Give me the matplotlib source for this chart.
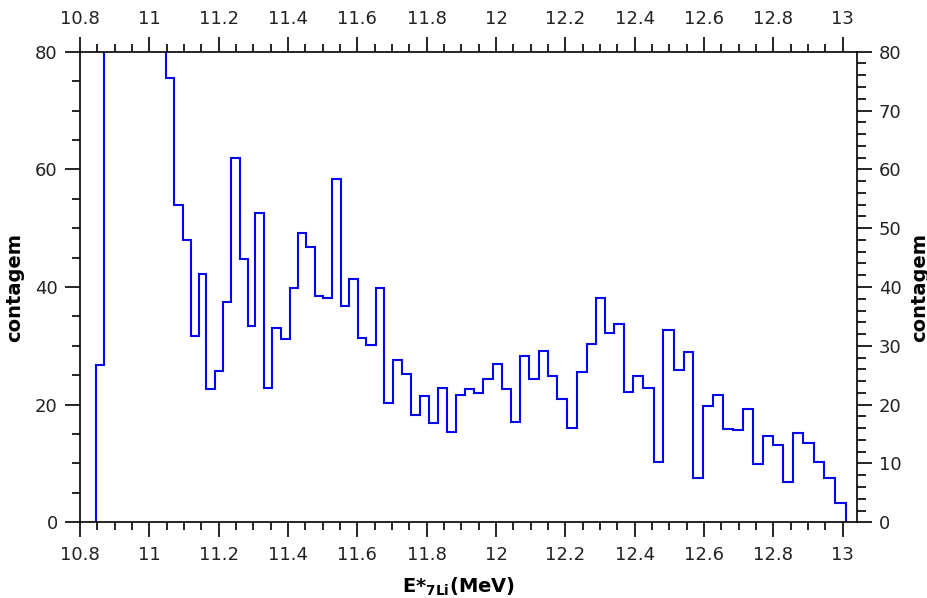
import matplotlib
matplotlib.use("Agg")
import matplotlib.pyplot as plt
from matplotlib.ticker import MultipleLocator
import numpy as np

# Bin edges of the excitation-energy histogram (MeV); bins widen slowly with energy
edges = [
    10.846, 10.868, 10.891, 10.913, 10.936, 10.958, 10.981, 11.003, 11.026, 11.048,
    11.072, 11.096, 11.119, 11.142, 11.164, 11.188, 11.212, 11.236, 11.260, 11.284,
    11.306, 11.330, 11.355, 11.379, 11.405, 11.429, 11.453, 11.477, 11.501, 11.527,
    11.552, 11.576, 11.602, 11.626, 11.653, 11.677, 11.703, 11.729, 11.754, 11.780,
    11.806, 11.833, 11.859, 11.884, 11.910, 11.936, 11.963, 11.990, 12.016, 12.042,
    12.069, 12.096, 12.124, 12.151, 12.177, 12.204, 12.233, 12.262, 12.288, 12.314,
    12.341, 12.369, 12.396, 12.425, 12.454, 12.481, 12.512, 12.541, 12.568, 12.597,
    12.626, 12.653, 12.683, 12.712, 12.741, 12.770, 12.799, 12.828, 12.857, 12.886,
    12.916, 12.947, 12.976, 13.009,
]

# Counts per bin (the peak near 10.9-11.0 MeV goes above the plotted range)
counts = [
    26.7,
    95.0, 140.0, 180.0, 200.0, 170.0, 130.0, 105.0, 88.0,
    75.6, 54.0, 48.0, 31.7, 42.2, 22.7, 25.7, 37.4, 61.9, 44.8,
    33.4, 52.6, 22.8, 33.0, 31.2, 39.8, 49.2, 46.8, 38.5, 38.2,
    58.3, 36.8, 41.3, 31.3, 30.1, 39.8, 20.3, 27.6, 25.2, 18.2,
    21.4, 16.9, 22.9, 15.3, 21.6, 22.6, 22.0, 24.4, 26.9, 22.7,
    17.1, 28.3, 24.4, 29.2, 24.9, 20.9, 16.1, 25.6, 30.3, 38.2,
    32.2, 33.7, 22.1, 24.8, 22.9, 10.3, 32.7, 25.9, 29.0, 7.6,
    19.8, 21.6, 15.8, 15.7, 19.3, 9.9, 14.7, 13.1, 6.9, 15.1,
    13.5, 10.2, 7.6, 3.2,
]

x_ticks = [10.8, 11.0, 11.2, 11.4, 11.6, 11.8, 12.0, 12.2, 12.4, 12.6, 12.8, 13.0]
x_tick_labels = ["10.8", "11", "11.2", "11.4", "11.6", "11.8", "12", "12.2", "12.4",
                 "12.6", "12.8", "13"]
left_ticks = [0, 20, 40, 60, 80]
right_ticks = [0, 10, 20, 30, 40, 50, 60, 70, 80]

plt.rcParams["font.family"] = ["DejaVu Sans"]

W, H = 928, 598
fig = plt.figure(figsize=(W / 100, H / 100), dpi=100)
fig.patch.set_facecolor("white")

left, right, top, bottom = 80, 856.7, 51.7, 522.3
ax = fig.add_axes([left / W, 1 - bottom / H, (right - left) / W, (bottom - top) / H])

ax.stairs(counts, edges, baseline=0, color="#0505f0", linewidth=1.5)

ax.set_xlim(10.8, 13.04)
ax.set_ylim(0, 80)

spine_lw = 1.2
tick_col = "#222222"
for s in ax.spines.values():
    s.set_linewidth(spine_lw)
    s.set_color("black")

ax.set_xticks(x_ticks)
ax.set_xticklabels(x_tick_labels)
ax.xaxis.set_minor_locator(MultipleLocator(0.05))
ax.set_yticks(left_ticks)
ax.yaxis.set_minor_locator(MultipleLocator(5))

ax.tick_params(axis="x", which="both", direction="out", top=True, bottom=True,
               labeltop=True, labelbottom=True, width=spine_lw, color="black",
               labelsize=13, labelcolor=tick_col)
ax.tick_params(axis="x", which="major", length=11, pad=6)
ax.tick_params(axis="x", which="minor", length=6)
ax.tick_params(axis="y", which="both", direction="out", left=True, right=False,
               width=spine_lw, color="black", labelsize=13, labelcolor=tick_col)
ax.tick_params(axis="y", which="major", length=11, pad=5)
ax.tick_params(axis="y", which="minor", length=6)

ax2 = ax.twinx()
ax2.set_ylim(0, 80)
ax2.set_yticks(right_ticks)
ax2.yaxis.set_minor_locator(MultipleLocator(2))
ax2.tick_params(axis="y", which="both", direction="out", width=spine_lw,
                color="black", labelsize=13, labelcolor=tick_col)
ax2.tick_params(axis="y", which="major", length=11, pad=5)
ax2.tick_params(axis="y", which="minor", length=6.5)
for s in ax2.spines.values():
    s.set_visible(False)

ax.set_ylabel("contagem", fontsize=14, fontweight="bold", color="black")
ax.yaxis.set_label_coords(-0.072, 0.5)
ax2.set_ylabel("contagem", fontsize=14, fontweight="bold", color="black")
ax2.yaxis.set_label_coords(1.069, 0.5)

ax.set_xlabel(r"E*$_{\mathbf{7Li}}$(MeV)", fontsize=14, fontweight="bold", color="black")
ax.xaxis.set_label_coords(0.487, -0.113)

fig.savefig("out.png", dpi=100, facecolor="white")
